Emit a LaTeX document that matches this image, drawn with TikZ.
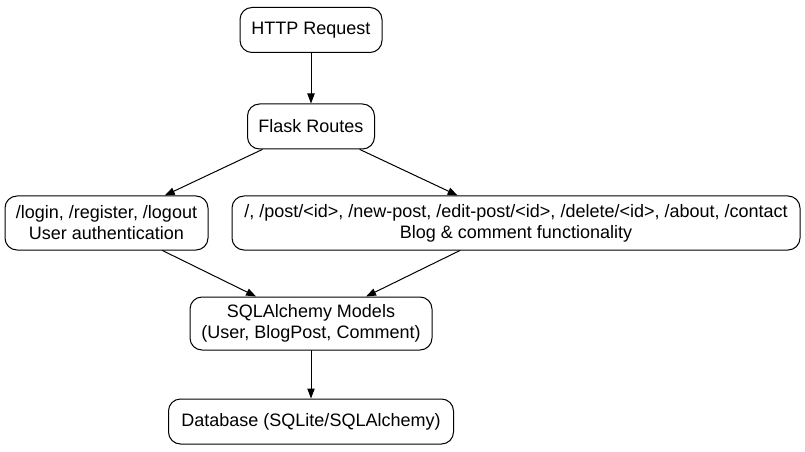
\documentclass[tikz,border=0pt]{standalone}
\usepackage{fontspec}
\setmainfont{Liberation Sans}
\usetikzlibrary{arrows.meta}

\begin{document}
\begin{tikzpicture}[line cap=round,line join=round,>={Triangle[length=7.5pt,width=5.5pt]},x=0.75pt,y=-0.75pt,
		box/.style={draw,line width=0.75pt,rounded corners=9pt,align=center,inner sep=0pt,font=\fontsize{13.5}{15.75}\selectfont}]
			\useasboundingbox (0,0) rectangle (805,452);
			\node [box,minimum width=106.5pt,minimum height=33.75pt] (req) at (311,30) {HTTP Request};
			\node [box,minimum width=95.25pt,minimum height=33.75pt] (routes) at (311,126.5) {Flask Routes};
			\node [box,minimum width=152.25pt,minimum height=40.5pt] (auth) at (106.5,223) {/login, /register, /logout\\User authentication};
			\node [box,minimum width=426pt,minimum height=40.5pt] (blog) at (516,223) {/, /post/<id>, /new-post, /edit-post/<id>, /delete/<id>, /about, /contact\\Blog \& comment functionality};
			\node [box,minimum width=181.5pt,minimum height=39.75pt] (models) at (311,323.5) {SQLAlchemy Models\\(User, BlogPost, Comment)};
			\node [box,minimum width=213.75pt,minimum height=33.75pt] (db) at (311,421.5) {Database (SQLite/SQLAlchemy)};
			% edges
			\draw [->,line width=0.75pt] (req) -- (routes);
			\draw [->,line width=0.75pt] (routes) -- (auth);
			\draw [->,line width=0.75pt] (routes) -- (blog);
			\draw [->,line width=0.75pt] (auth) -- (models);
			\draw [->,line width=0.75pt] (blog) -- (models);
			\draw [->,line width=0.75pt] (models) -- (db);
		\end{tikzpicture}
\end{document}
